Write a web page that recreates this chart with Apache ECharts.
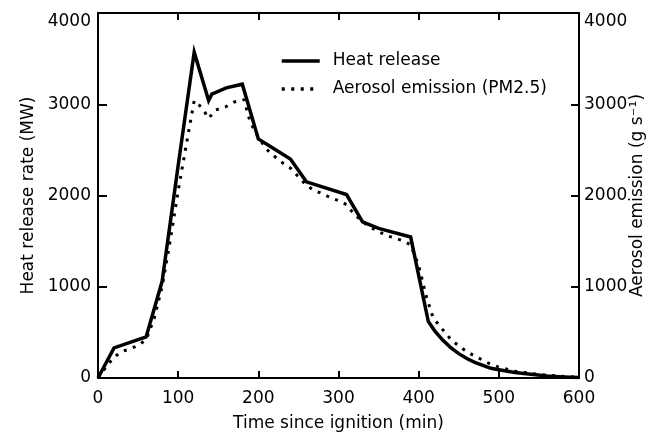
<!DOCTYPE html>
<html>
<head>
<meta charset="utf-8">
<script src="https://cdn.jsdelivr.net/npm/echarts@6/dist/echarts.min.js"></script>
<style>
html,body{margin:0;padding:0;background:#fff;}
#c{width:654px;height:435px;}
</style>
</head>
<body>
<div id="c"></div>
<script>
// ---- data ----
const heatTime = [0,20,60,80,100,120,138,142,160,180,200,220,240,260,310,330,350,390,412,420,430,440,450,460,470,480,490,500,520,540,560,580,600];
const heatValue = [0,330,450,1060,2330,3570,3040,3110,3180,3220,2620,2510,2400,2150,2010,1710,1640,1545,620,517,415,333,267,214,172,138,106,90,60,40,22,12,5];

const aeroTime = [0,10,20,30,40,50,60,70,80,90,100,110,120,130,138,146,160,170,182,190,200,210,220,230,240,250,260,270,280,290,300,310,320,330,340,350,360,370,380,390,400,410,418,430,440,450,460,470,480,490,500,520,540,560,580,600];
const aeroValue = [0,120,230,290,320,355,420,650,1000,1500,2050,2550,3040,2960,2845,2935,2975,3025,3050,2800,2640,2510,2430,2360,2300,2205,2110,2055,2020,1975,1945,1900,1790,1715,1650,1605,1560,1535,1505,1460,1230,880,660,530,425,350,290,240,195,150,120,75,50,32,18,8];

const seriesNames = ['Heat release', 'Aerosol emission (PM2.5)'];
const xTitle = 'Time since ignition (min)';
const yLeftTitle = 'Heat release rate (MW)';
const yRightTitle = 'Aerosol emission (g s\u207B\u00B9)';

const pairs = (t, v) => t.map((x, i) => [x, v[i]]);

const FONT = 'DejaVu Sans';
const axisLine = {show: true, onZero: false, lineStyle: {color: '#000', width: 2}};
const lbl = {color: '#000', fontFamily: FONT, fontSize: 17, formatter: v => String(v)};

const chart = echarts.init(document.getElementById('c'), null, {renderer: 'canvas'});
chart.setOption({
  backgroundColor: '#fff',
  animation: false,
  grid: {left: 98, right: 75, top: 13, bottom: 57, containLabel: false, outerBoundsMode: 'none'},
  legend: {
    orient: 'vertical',
    left: 275, top: 46,
    itemWidth: 38, itemHeight: 14, itemGap: 8,
    data: seriesNames,
    itemStyle: {opacity: 0},
    lineStyle: {width: 3.5},
    textStyle: {color: '#000', fontFamily: FONT, fontSize: 17, lineHeight: 20, padding: [0,0,0,8]}
  },
  xAxis: [
    {type: 'value', min: 0, max: 600, interval: 100, position: 'bottom',
     axisLine, splitLine: {show: false},
     axisTick: {show: true, inside: true, length: 7, lineStyle: {color: '#000', width: 2}},
     axisLabel: Object.assign({margin: 12}, lbl),
     name: xTitle, nameLocation: 'middle', nameGap: 37, nameMoveOverlap: false,
     nameTextStyle: {color: '#000', fontFamily: FONT, fontSize: 17}},
    {type: 'value', min: 0, max: 600, interval: 100, position: 'top',
     axisLine, splitLine: {show: false},
     axisTick: {show: true, inside: true, length: 7, lineStyle: {color: '#000', width: 2}},
     axisLabel: {show: false}}
  ],
  yAxis: [
    {type: 'value', min: 0, max: 4000, interval: 1000, position: 'left',
     axisLine, splitLine: {show: false},
     axisTick: {show: true, inside: true, length: 9, lineStyle: {color: '#000', width: 2}},
     axisLabel: Object.assign({margin: 7, verticalAlignMaxLabel: 'top'}, lbl),
     name: yLeftTitle, nameLocation: 'middle', nameGap: 61, nameRotate: 90, nameMoveOverlap: false,
     nameTextStyle: {color: '#000', fontFamily: FONT, fontSize: 17}},
    {type: 'value', min: 0, max: 4000, interval: 1000, position: 'right',
     axisLine, splitLine: {show: false},
     axisTick: {show: true, inside: true, length: 8, lineStyle: {color: '#000', width: 2}},
     axisLabel: Object.assign({margin: 5, verticalAlignMaxLabel: 'top'}, lbl),
     name: yRightTitle, nameLocation: 'middle', nameGap: 50, nameRotate: 90, nameMoveOverlap: false,
     nameTextStyle: {color: '#000', fontFamily: FONT, fontSize: 17}}
  ],
  series: [
    {name: seriesNames[0], type: 'line', xAxisIndex: 0, yAxisIndex: 0,
     data: pairs(heatTime, heatValue), symbol: 'none', z: 3,
     lineStyle: {color: '#000', width: 3.5, type: 'solid', join: 'miter'},
     itemStyle: {color: '#000'}},
    {name: seriesNames[1], type: 'line', xAxisIndex: 0, yAxisIndex: 1,
     data: pairs(aeroTime, aeroValue), symbol: 'none', z: 2,
     lineStyle: {color: '#000', width: 3, type: [3, 6.5], cap: 'butt'},
     itemStyle: {color: '#000'}}
  ]
});
</script>
</body>
</html>
